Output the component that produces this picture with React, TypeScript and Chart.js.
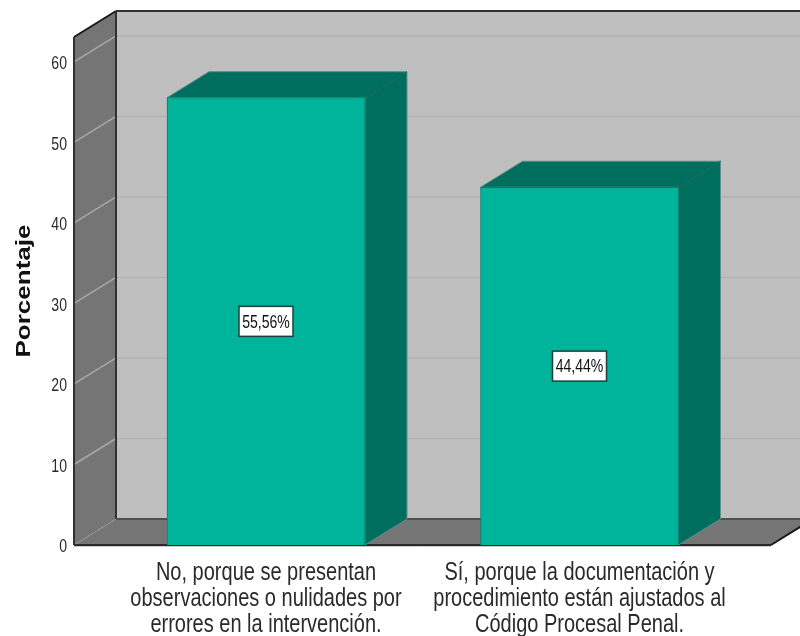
import React, { useEffect, useRef } from "react";
import { Chart, registerables } from "chart.js";

Chart.register(...registerables);

const categories: string[][] = [
  ["No, porque se presentan", "observaciones o nulidades por", "errores en la intervención."],
  ["Sí, porque la documentación y", "procedimiento están ajustados al", "Código Procesal Penal."],
];
const percentages: number[] = [55.56, 44.44];
const yTicks: number[] = [0, 10, 20, 30, 40, 50, 60];
const yTitle = "Porcentaje";

const DX = 42;
const DY = -26;
const SANS = "'Liberation Sans', Arial, sans-serif";

// The reference's text is squeezed sideways (and the bold title stretched along its length).
const textStretch = {
  id: "textStretch",
  beforeDraw(chart: any) {
    const ctx = chart.ctx;
    const orig = CanvasRenderingContext2D.prototype.fillText;
    ctx.fillText = function (text: string, x: number, y: number) {
      const font: string = ctx.font;
      const sx = font.includes("bold") ? 1.3 : font.includes("25px") ? 0.8 : 0.74;
      const dy = ctx.textAlign === "right" ? 2 : 0;
      ctx.save();
      ctx.translate(x, y + dy);
      ctx.scale(sx, 1);
      orig.call(ctx, text, 0, 0);
      ctx.restore();
    };
  },
};

const cube3d = {
  id: "cube3d",
  beforeDatasetsDraw(chart: any) {
    const { ctx, chartArea: a, scales } = chart;
    const y = scales.y;
    const poly = (pts: number[][], fill?: string) => {
      ctx.beginPath();
      pts.forEach((p, i) => (i ? ctx.lineTo(p[0], p[1]) : ctx.moveTo(p[0], p[1])));
      ctx.closePath();
      if (fill) {
        ctx.fillStyle = fill;
        ctx.fill();
      }
    };
    const line = (x1: number, y1: number, x2: number, y2: number, c: string, w: number, dash: number[] = []) => {
      ctx.beginPath();
      ctx.setLineDash(dash);
      ctx.moveTo(x1, y1);
      ctx.lineTo(x2, y2);
      ctx.strokeStyle = c;
      ctx.lineWidth = w;
      ctx.stroke();
      ctx.setLineDash([]);
    };
    ctx.save();
    const L = a.left, R = a.right, T = a.top, B = a.bottom;
    // back wall
    poly([[L + DX, T + DY], [R + DX, T + DY], [R + DX, B + DY], [L + DX, B + DY]], "#bfbfbf");
    // left wall + floor
    poly([[L, T], [L + DX, T + DY], [L + DX, B + DY], [L, B]], "#757575");
    poly([[L, B], [L + DX, B + DY], [R + DX, B + DY], [R, B]], "#757575");
    // gridlines
    yTicks.forEach((v) => {
      const py = y.getPixelForValue(v);
      if (v === 0) {
        line(L, py, L + DX, py + DY, "#a0a0a0", 1, [2, 2]);
        return;
      }
      line(L, py, L + DX, py + DY, "#a8a8a8", 1.5);
      line(L + DX, py + DY, R + DX, py + DY, "#b2b2b2", 1.5);
    });
    // outlines
    line(L + DX, T + DY, R + DX, T + DY, "#303030", 2);
    line(L, T, L + DX, T + DY, "#1a1a1a", 2);
    line(L, T, L, B, "#303030", 2);
    line(L + DX, T + DY, L + DX, B + DY, "#303030", 2);
    line(L + DX, B + DY, R + DX, B + DY, "#505050", 2);
    line(L, B + 1.5, R, B + 1.5, "#c8c8c8", 1);
    line(L, B, R, B, "#2a2a2a", 2);
    line(R, B, R + DX, B + DY, "#1a1a1a", 2);
    // bar side and top faces
    chart.getDatasetMeta(0).data.forEach((bar: any) => {
      const x0 = bar.x - bar.width / 2;
      const x1 = bar.x + bar.width / 2;
      const top = bar.y;
      const base = bar.base;
      poly([[x1, top], [x1 + DX, top + DY], [x1 + DX, base + DY], [x1, base]], "#006e5e");
      ctx.strokeStyle = "#5f8f86";
      ctx.lineWidth = 1;
      ctx.stroke();
      poly([[x0, top], [x0 + DX, top + DY], [x1 + DX, top + DY], [x1, top]], "#006e5e");
      ctx.stroke();
      line(x1, top, x1 + DX, top + DY, "#005c4f", 1);
    });
    ctx.restore();
  },
  afterDatasetsDraw(chart: any) {
    const { ctx } = chart;
    ctx.save();
    chart.getDatasetMeta(0).data.forEach((bar: any, i: number) => {
      const cy = (bar.y + bar.base) / 2;
      const w = 54, h = 30;
      ctx.fillStyle = "#ffffff";
      ctx.fillRect(bar.x - w / 2, cy - h / 2, w, h);
      ctx.strokeStyle = "#1f3f3a";
      ctx.lineWidth = 1.5;
      ctx.strokeRect(bar.x - w / 2, cy - h / 2, w, h);
      ctx.fillStyle = "#111111";
      ctx.font = `19px ${SANS}`;
      ctx.textAlign = "center";
      ctx.textBaseline = "middle";
      ctx.fillText(percentages[i].toFixed(2).replace(".", ",") + "%", bar.x, cy + 1);
    });
    ctx.restore();
  },
};

export default function App() {
  const ref = useRef<HTMLCanvasElement>(null);
  useEffect(() => {
    document.body.style.margin = "0";
    const chart = new Chart(ref.current as HTMLCanvasElement, {
      type: "bar",
      data: {
        datasets: [
          {
            data: percentages.map((v, i) => ({ x: i, y: v })),
            backgroundColor: "#00b39b",
            borderColor: "#00806f",
            borderWidth: 1,
            barThickness: 198,
          } as any,
        ],
      },
      plugins: [textStretch, cube3d],
      options: {
        responsive: false,
        animation: false,
        layout: { padding: { top: 37, right: 29, left: 0, bottom: 0 } },
        plugins: { legend: { display: false }, tooltip: { enabled: false } },
        scales: {
          x: {
            type: "linear",
            offset: false,
            min: -0.6124,
            max: 1.6108,
            grid: { display: false },
            border: { display: false },
            afterBuildTicks(s: any) {
              s.ticks = categories.map((_, i) => ({ value: i }));
            },
            afterFit(s: any) {
              s.height = 91;
            },
            ticks: {
              autoSkip: false,
              maxRotation: 0,
              minRotation: 0,
              padding: 7,
              color: "#2a2a2a",
              font: { family: SANS, size: 25, lineHeight: 1.04 },
              callback: (v: any) => categories[v as number],
            },
          },
          y: {
            min: 0,
            max: 63.1,
            grid: { display: false, tickLength: 7 },
            border: { display: false },
            afterBuildTicks(s: any) {
              s.ticks = yTicks.map((value) => ({ value }));
            },
            afterFit(s: any) {
              s.width = 74;
            },
            title: {
              display: true,
              text: yTitle,
              color: "#111111",
              padding: { top: 12, bottom: 0 },
              font: { family: SANS, size: 20, weight: "bold" },
            },
            ticks: {
              padding: 0,
              color: "#2a2a2a",
              font: { family: SANS, size: 19 },
            },
          },
        },
      },
    } as any);
    return () => chart.destroy();
  }, []);
  return (
    <div style={{ position: "absolute", left: 0, top: 0, width: 800, height: 636, overflow: "hidden" }}>
      <canvas ref={ref} width={800} height={636} style={{ display: "block", filter: "blur(0.45px)" }} />
    </div>
  );
}
